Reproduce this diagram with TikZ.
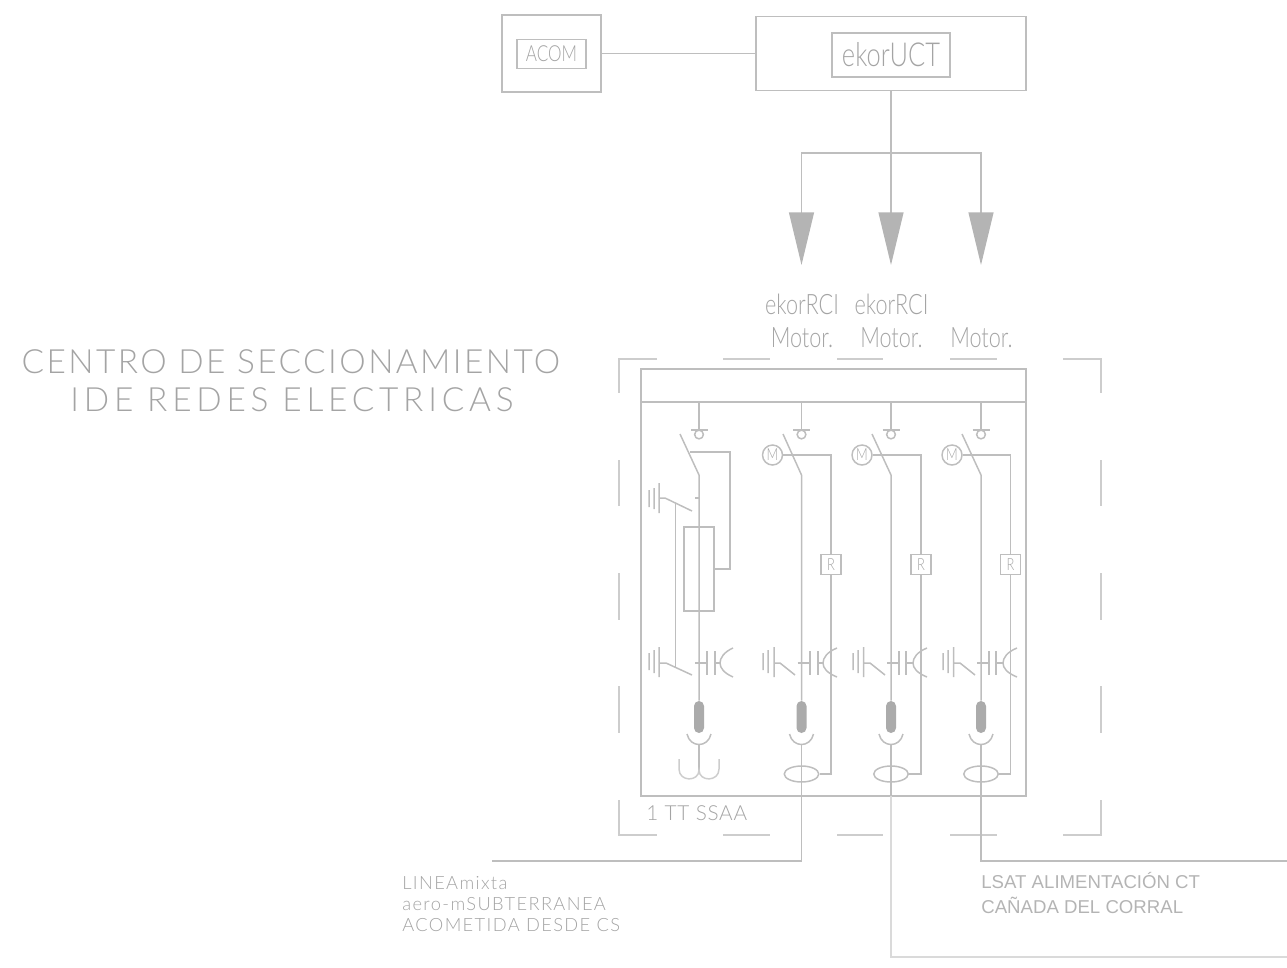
\documentclass[tikz,border=0pt]{standalone}
\usepackage{fontspec}
\usepackage{tikz}
\usetikzlibrary{positioning}
\usetikzlibrary{arrows.meta}
\usetikzlibrary{shapes.geometric}

\setmainfont{Liberation Sans}
\newfontfamily\narrowfont[FakeStretch=0.77]{Lato Light}
\newfontfamily\platefont[LetterSpace=7.3]{Lato Light}
\newfontfamily\platewidefont[LetterSpace=14.3]{Lato Light}
\newfontfamily\notefont[LetterSpace=7.5]{Lato Light}
\newfontfamily\smallfont[LetterSpace=3.5]{Lato Light}

\definecolor{wirecol}{HTML}{BEBEBE}
\definecolor{framecol}{HTML}{CDCDCD}
\definecolor{feedcol}{HTML}{DADADA}
\definecolor{inkcol}{HTML}{A4A4A4}
\definecolor{lsatcol}{HTML}{B4B4B4}

\tikzset{
	wire/.style={draw=wirecol, line width=0.85pt},
	frameline/.style={draw=framecol, line width=0.85pt},
	feedline/.style={draw=feedcol, line width=0.85pt},
	bigarrow/.style={wire, -{Triangle[length=30pt,width=14.2pt,color=wirecol!95!black]}},
	box/.style={rectangle, wire, inner sep=0pt, text=inkcol},
	motorbox/.style={circle, wire, inner sep=0pt, minimum size=0.4cm, text=inkcol, font=\narrowfont\fontsize{9.5}{10}\selectfont},
	relaybox/.style={box, minimum size=0.4cm, font=\narrowfont\fontsize{9.5}{10}\selectfont},
	contactbox/.style={circle, wire, inner sep=0pt, minimum size=0.175cm},
	ovalbox/.style={ellipse, wire, inner sep=0pt, minimum width=0.69cm, minimum height=0.32cm},
	termbox/.style={rectangle, fill=wirecol!90!black, rounded corners=0.1cm, inner sep=0pt, minimum width=0.2cm, minimum height=0.64cm},
	tag/.style={text=inkcol, inner sep=0pt},
	plate/.style={tag, font=\platefont\fontsize{19}{24}\selectfont},
	platewide/.style={tag, font=\platewidefont\fontsize{19}{24}\selectfont},
	note/.style={tag, anchor=west, align=left, font=\notefont\fontsize{10.4}{11.7}\selectfont},
	motortag/.style={tag, font=\narrowfont\fontsize{16}{18}\selectfont},
	lsattag/.style={tag, text=lsatcol, anchor=base west, font=\fontsize{10.6}{12}\selectfont}
}

\begin{document}
\begin{tikzpicture}[x=0.02cm, y=-0.02cm]
	\useasboundingbox (0,0) rectangle (1287,967);

	% control boxes
	\node[box, minimum width=1.98cm, minimum height=1.54cm] (acomouter) at (551.5,53.5) {};
	\node[box, minimum width=1.38cm, minimum height=0.58cm, font=\narrowfont\fontsize{12.6}{14}\selectfont] (acom) at (551.5,54) {ACOM};
	\node[box, minimum width=5.4cm, minimum height=1.48cm] (uctouter) at (891,53.5) {};
	\node[box, minimum width=2.36cm, minimum height=0.88cm, font=\narrowfont\fontsize{18.8}{20}\selectfont] (uct) at (891,55) {ekorUCT};
	\draw[wire] (acomouter.east) -- (uctouter.west);

	% arrows to the cells
	\coordinate (hub) at (891,153);
	\coordinate (tipA) at (801.5,265);
	\coordinate (tipB) at (891,265);
	\coordinate (tipC) at (981,265);
	\draw[bigarrow] (uctouter.south) -- (tipB);
	\draw[bigarrow] (hub) -| (tipA);
	\draw[bigarrow] (hub) -| (tipC);

	\node[motortag] (rciA) at (802,304) {ekorRCI};
	\node[motortag] (rciB) at (891.5,304) {ekorRCI};
	\node[motortag, below=0.26cm of rciA] (motorA) {Motor.};
	\node[motortag, below=0.26cm of rciB] (motorB) {Motor.};
	\node[motortag] (motorC) at (981.5,338) {Motor.};

	\node[plate] (titleA) at (291,361.5) {CENTRO DE SECCIONAMIENTO};
	\node[platewide] (titleB) at (292,399.5) {IDE REDES ELECTRICAS};

	% dashed enclosure
	\draw[frameline] (657,359) -- (619,359) -- (619,393) (723,359) -- (770,359) (837,359) -- (883,359) (950,359) -- (997,359);
	\draw[frameline] (1063,359) -- (1101,359) -- (1101,393) (619,460) -- (619,506) (619,573) -- (619,620) (619,686) -- (619,733);
	\draw[frameline] (1101,460) -- (1101,506) (1101,573) -- (1101,620) (1101,686) -- (1101,733);
	\draw[frameline] (619,800) -- (619,835) -- (657,835) (723,835) -- (770,835) (837,835) -- (883,835) (950,835) -- (997,835);
	\draw[frameline] (1101,800) -- (1101,835) -- (1063,835);

	% panel
	\node[box, minimum width=7.7cm, minimum height=8.54cm] (panel) at (833.5,582.5) {};
	\coordinate (busL) at (641,402);
	\coordinate (busR) at (1026,402);
	\draw[wire] (busL) -- (busR);
	\node[tag, anchor=west, font=\smallfont\fontsize{11.8}{12}\selectfont] (ssaa) at (646,813) {1 TT SSAA};

	% first cell, with fuse
	\node[contactbox] (contactA) at (699,434.5) {};
	\node[box, minimum width=0.6cm, minimum height=1.68cm] (fuse) at (699,569) {};
	\node[termbox] (termA) at (699,717) {};
	\coordinate (bladeA) at (699,475);
	\coordinate (pull) at (690,452);
	\coordinate (cupA) at (699,745);
	\coordinate (coilA) at (699,770);
	\draw[wire] (699,402) -- (699,430);
	\draw[wire] (691,430) -- (708,430);
	\draw[wire] (680,434) -- (bladeA) -- (termA.north);
	\draw[wire] (pull) -- (730,452) |- (fuse.east);
	\draw[wire] (649,490) -- (649,507) (654,488) -- (654,509) (659,483) -- (659,513) (659,498) -- (665,498) -- (692,511);
	\draw[wire] (695,498) -- (699,498);
	\draw[wire] (675.7,504) -- (675.7,668);
	\draw[wire] (649,653) -- (649,670) (654,650) -- (654,673) (659,647) -- (659,677) (659,663) -- (666,663) -- (692,675);
	\draw[wire] (695,663) -- (707,663) (707,651) -- (707,675) (715,651) -- (715,675) (715,663) -- (720,663);
	\draw[wire] (733,648) .. controls (724,652) and (720,658) .. (720,663) .. controls (720,668) and (724,673) .. (733,677);
	\draw[wire] (687,734) .. controls (690,748) and (708,748) .. (711,734);
	\draw[wire] (cupA) -- (coilA);
	\draw[frameline] (679,759) -- (679,769) .. controls (679,782) and (699,782) .. (coilA) .. controls (699,782) and (719,782) .. (719,769) -- (719,759);

	% second cell
	\node[contactbox] (contactB) at (801.5,434.5) {};
	\node[motorbox] (motB) at (772.5,455) {M};
	\node[relaybox] (relayB) at (831,564.5) {R};
	\node[termbox] (termB) at (801.5,717) {};
	\node[ovalbox] (ovalB) at (801.5,774) {};
	\coordinate (bladeB) at (801.5,475);
	\coordinate (cupB) at (801.5,745);
	\coordinate (lineIn) at (492,861);
	\draw[wire] (801.5,402) -- (801.5,430);
	\draw[wire] (793,430) -- (810,430);
	\draw[wire] (783,434) -- (bladeB) -- (termB.north);
	\draw[wire] (motB.east) -| (relayB.north);
	\draw[wire] (relayB.south) |- (ovalB.east);
	\draw[wire] (763,653) -- (763,670) (768,650) -- (768,673) (774,647) -- (774,677) (774,663) -- (780,663) -- (795,675);
	\draw[wire] (797.5,663) -- (810,663) (810,651) -- (810,675) (818,651) -- (818,675) (818,663) -- (823,663);
	\draw[wire] (837,648) .. controls (827,652) and (823,658) .. (823,663) .. controls (823,668) and (827,673) .. (837,677);
	\draw[wire] (789.5,734) .. controls (792.5,748) and (810.5,748) .. (813.5,734);
	\draw[wire] (cupB) |- (lineIn);

	% third cell
	\node[contactbox] (contactC) at (891,434.5) {};
	\node[motorbox] (motC) at (862,455) {M};
	\node[relaybox] (relayC) at (921,564.5) {R};
	\node[termbox] (termC) at (891,717) {};
	\node[ovalbox] (ovalC) at (891,774) {};
	\coordinate (bladeC) at (891,475);
	\coordinate (cupC) at (891,745);
	\coordinate (feedC) at (891,796);
	\coordinate (feedOut) at (1287,957);
	\draw[wire] (891,402) -- (891,430);
	\draw[wire] (882.5,430) -- (899.5,430);
	\draw[wire] (872,434) -- (bladeC) -- (termC.north);
	\draw[wire] (motC.east) -| (relayC.north);
	\draw[wire] (relayC.south) |- (ovalC.east);
	\draw[wire] (853,653) -- (853,670) (858,650) -- (858,673) (863.5,647) -- (863.5,677) (863.5,663) -- (870,663) -- (885,675);
	\draw[wire] (887,663) -- (899,663) (899,651) -- (899,675) (906,651) -- (906,675) (906,663) -- (913,663);
	\draw[wire] (927,648) .. controls (917,652) and (913,658) .. (913,663) .. controls (913,668) and (917,673) .. (927,677);
	\draw[wire] (879,734) .. controls (882,748) and (900,748) .. (903,734);
	\draw[wire] (cupC) -- (feedC);
	\draw[feedline] (feedC) |- (feedOut);

	% fourth cell
	\node[contactbox] (contactD) at (981,434.5) {};
	\node[motorbox] (motD) at (952,455) {M};
	\node[relaybox] (relayD) at (1010.5,564.5) {R};
	\node[termbox] (termD) at (981,717) {};
	\node[ovalbox] (ovalD) at (981,774) {};
	\coordinate (bladeD) at (981,475);
	\coordinate (cupD) at (981,745);
	\coordinate (lineOut) at (1287,861);
	\draw[wire] (981,402) -- (981,430);
	\draw[wire] (972.5,430) -- (989.5,430);
	\draw[wire] (962,434) -- (bladeD) -- (termD.north);
	\draw[wire] (motD.east) -| (relayD.north);
	\draw[wire] (relayD.south) |- (ovalD.east);
	\draw[wire] (943,653) -- (943,670) (948,650) -- (948,673) (953.5,647) -- (953.5,677) (953.5,663) -- (960,663) -- (975,675);
	\draw[wire] (977,663) -- (989,663) (989,651) -- (989,675) (996,651) -- (996,675) (996,663) -- (1003,663);
	\draw[wire] (1017,648) .. controls (1007,652) and (1003,658) .. (1003,663) .. controls (1003,668) and (1007,673) .. (1017,677);
	\draw[wire] (969,734) .. controls (972,748) and (990,748) .. (993,734);
	\draw[wire] (cupD) |- (lineOut);

	% line labels
	\node[note] (lineTag) at (402,904) {LINEAmixta\\aero-mSUBTERRANEA\\ACOMETIDA DESDE CS};
	\node[lsattag] (lsatA) at (981,888) {LSAT ALIMENTACIÓN CT};
	\node[lsattag] (lsatB) at (981,913) {CAÑADA DEL CORRAL};
\end{tikzpicture}
\end{document}
